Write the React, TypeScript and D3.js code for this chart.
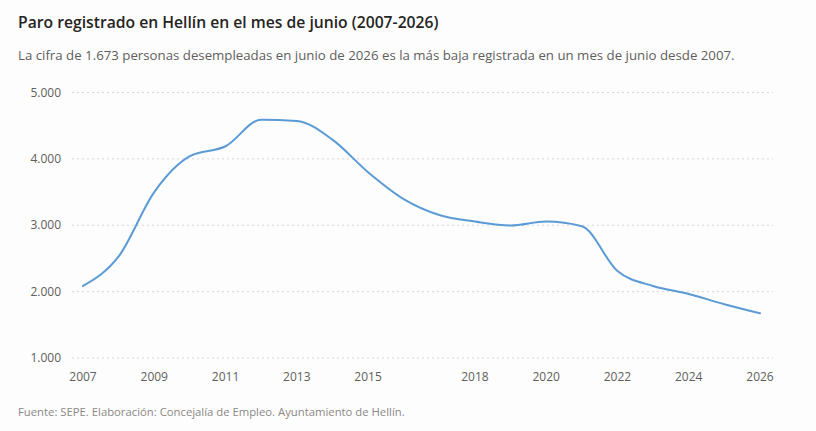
import React from "react";
import * as d3 from "d3";

const years = [2007, 2008, 2009, 2010, 2011, 2012, 2013, 2014, 2015, 2016, 2017, 2018, 2019, 2020, 2021, 2022, 2023, 2024, 2025, 2026];
const parados = [2085, 2530, 3500, 4040, 4190, 4590, 4570, 4290, 3800, 3395, 3155, 3055, 2995, 3055, 2985, 2310, 2085, 1965, 1810, 1673];
const xTicks = [2007, 2009, 2011, 2013, 2015, 2018, 2020, 2022, 2024, 2026];
const yTicks = [1000, 2000, 3000, 4000, 5000];

const W = 816;
const H = 431;
const FONT = "'Open Sans', 'Noto Sans', sans-serif";

export default function App() {
  const x = d3.scaleLinear().domain([2007, 2026]).range([83, 760]);
  const y = d3.scaleLinear().domain([1000, 5000]).range([358, 92.5]);
  const fmt = (v: number) => d3.format(",")(v).replace(/,/g, ".");
  const line = d3
    .line<number>()
    .x((_, i) => x(years[i]))
    .y((d) => y(d))
    .curve(d3.curveMonotoneX);

  return (
    <svg
      width={W}
      height={H}
      style={{ position: "absolute", left: 0, top: 0, background: "#fdfdfd" }}
      fontFamily={FONT}
    >
      <rect width={W} height={H} fill="#fdfdfd" />
      <text x={18} y={28} fontSize={15.7} fontWeight={600} fill="#252423">
        Paro registrado en Hellín en el mes de junio (2007-2026)
      </text>
      <text x={18} y={60} fontSize={13.25} fill="#605e5c">
        La cifra de 1.673 personas desempleadas en junio de 2026 es la más baja registrada en un mes de junio desde 2007.
      </text>

      {yTicks.map((t) => (
        <g key={t}>
          <line
            x1={72}
            x2={773}
            y1={y(t)}
            y2={y(t)}
            stroke="#d6d6d6"
            strokeWidth={1}
            strokeDasharray="2 3"
          />
          <text x={61} y={y(t)} dy="0.35em" textAnchor="end" fontSize={12} fill="#605e5c">
            {fmt(t)}
          </text>
        </g>
      ))}

      {xTicks.map((t) => (
        <text key={t} x={x(t)} y={381} textAnchor="middle" fontSize={12} fill="#605e5c">
          {t}
        </text>
      ))}

      <path d={line(parados) || ""} fill="none" stroke="#5b9bd5" strokeWidth={2} strokeLinejoin="round" strokeLinecap="round" />

      <text x={18} y={416} fontSize={11.3} fill="#8a8886">
        Fuente: SEPE. Elaboración: Concejalía de Empleo. Ayuntamiento de Hellín.
      </text>
    </svg>
  );
}
